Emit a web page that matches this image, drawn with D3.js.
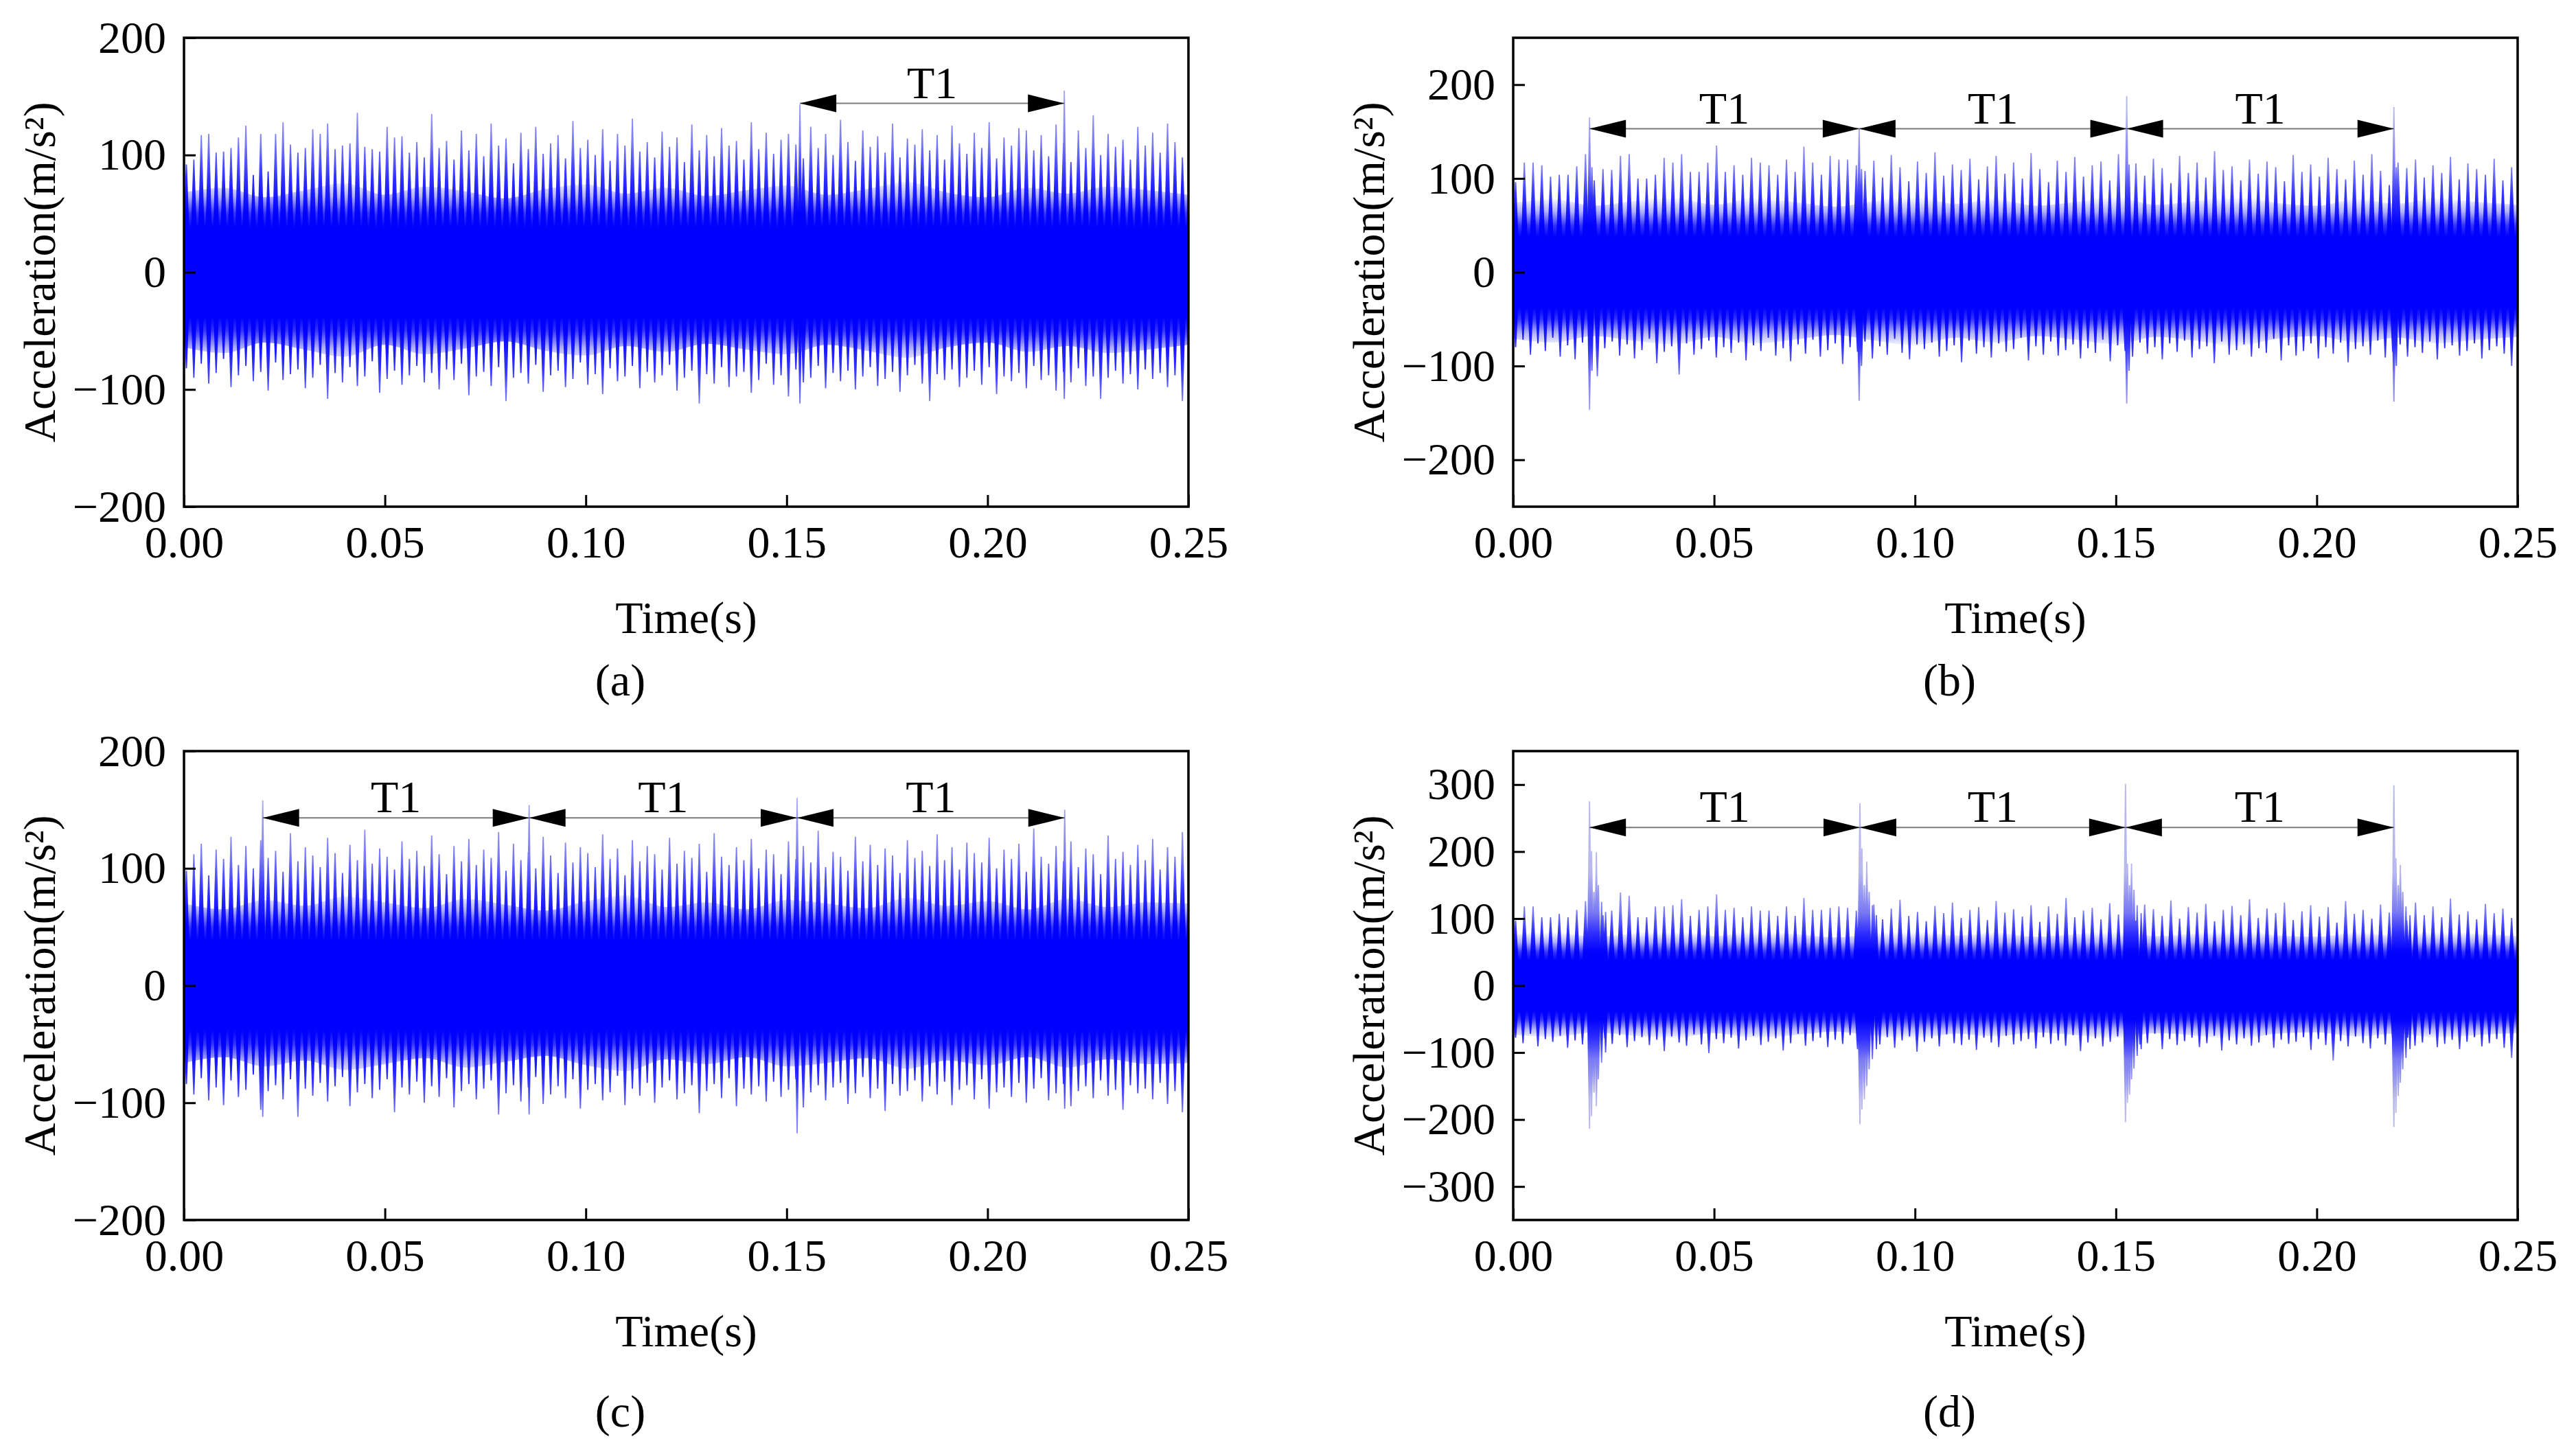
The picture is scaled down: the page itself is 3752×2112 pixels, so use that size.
<!DOCTYPE html>
<html>
<head>
<meta charset="utf-8">
<script src="https://cdn.jsdelivr.net/npm/d3@7"></script>
<style>
  body { margin: 0; background: #fff; }
  svg { display: block; font-family: "Liberation Serif", "Times New Roman", serif; }
</style>
</head>
<body>
<svg width="3752" height="2112"></svg>
<script>
// Time axis
const xTicks = [0, 0.05, 0.10, 0.15, 0.20, 0.25];
const tStart = 0.0006, tEnd = 0.2485;   // first / last spike of the sampled trace

// (a) spike tops / bottoms, extent of the dense core, marked spikes and T1 marks
const aHi = [92,96,117,118,102,103,106,115,125,83,118,86,118,128,109,102,106,122,118,127,
  105,108,110,136,107,105,103,124,115,116,102,111,98,135,106,112,96,121,104,118,
  99,127,108,114,93,119,105,124,101,110,117,97,129,106,113,100,122,95,118,108,
  131,103,111,98,120,107,115,94,126,104,117,99,123,108,112,96,128,105,119,101,
  113,118,109,97,124,106,118,100,130,111,95,121,107,116,102,127,98,114,109,122,
  104,117,96,125,110,101,119,106,128,97,115,108,123,121,104,117,99,126,110,94,
  121,106,134,100,118,107,113,96,124,108,119,102,127,111,98];
const aLo = [-82,-90,-78,-95,-86,-74,-98,-88,-80,-93,-85,-101,-77,-92,-87,-83,-99,-90,-79,-108,
  -86,-94,-81,-97,-89,-76,-103,-91,-84,-96,-88,-80,-94,-86,-100,-83,-92,-78,-105,-89,
  -85,-97,-81,-110,-90,-86,-95,-79,-102,-88,-84,-98,-91,-77,-96,-87,-104,-82,-93,-89,
  -80,-99,-85,-94,-88,-79,-101,-90,-84,-112,-87,-95,-81,-98,-89,-85,-103,-92,-78,-96,
  -88,-106,-83,-94,-90,-80,-99,-86,-93,-84,-100,-89,-81,-97,-91,-85,-102,-88,-79,-95,
  -110,-87,-92,-83,-98,-90,-84,-96,-81,-104,-89,-93,-86,-99,-80,-92,-88,-101,-85,-94,
  -82,-97,-89,-108,-90,-84,-95,-87,-100,-83,-91,-86,-98,-88,-110];
const aCoreHi = [68,72,64,70,76,66,73,69,63,71,75,67,72,65,70,74,66,71,77,68,64,72,67,73,70,66];
const aCoreLo = [-64,-69,-60,-66,-72,-62,-70,-65,-59,-67,-71,-63,-68,-61,-66,-70,-62,-67,-73,-64,-60,-68,-63,-69,-66,-62];
const aExtra = [[0.1533, 143, -112], [0.2191, 155, -108]];
const aMarks = [0.1533, 0.2191];
const aMarkLevel = 144;

// (b)
const bHi = [96,117,117,114,102,104,104,113,126,98,110,109,124,126,100,100,104,122,117,126,
  107,107,117,135,107,114,104,122,117,114,104,120,107,134,117,104,124,120,120,114,
  108,119,101,125,112,97,118,106,128,103,115,109,121,99,113,124,105,117,100,127,
  110,96,119,107,123,102,114,118,98,126,108,116,103,121,111,95,124,106,117,101,
  129,109,113,98,120,105,118,112,97,125,107,115,102,122,110,99,119,104,126,108,
  93,117,111,120,101,114,106,123,99,116,110,104,121,98,112];
const bLo = [-80,-72,-88,-76,-84,-70,-90,-78,-93,-75,-86,-111,-81,-74,-89,-77,-92,-83,-71,-97,
  -85,-79,-109,-76,-88,-82,-73,-91,-80,-86,-75,-94,-78,-84,-70,-89,-81,-95,-77,-87,
  -72,-90,-83,-76,-98,-80,-85,-74,-92,-79,-88,-71,-86,-93,-77,-82,-75,-90,-84,-78,
  -96,-73,-87,-80,-91,-76,-85,-82,-70,-94,-79,-88,-74,-89,-83,-77,-92,-81,-86,-72,
  -95,-78,-84,-90,-75,-87,-80,-93,-76,-85,-73,-91,-82,-79,-97,-74,-88,-83,-77,-90,
  -81,-86,-71,-94,-78,-89,-84,-76,-92,-80,-87,-75,-96,-82,-79,-88,-73,-91,-85,-77,
  -90,-80,-86,-74,-93,-81,-78,-89,-84,-76,-92,-83,-79,-87,-100];
const bCoreHi = [74,78,71,76,80,72,79,75,70,76,81,73,78,71,75,80,72,76,82,74,71,78,73,79,75,72];
const bCoreLo = [-71,-75,-68,-73,-77,-69,-76,-72,-67,-73,-78,-70,-75,-68,-72,-77,-69,-73,-79,-71,-68,-75,-70,-76,-72,-69];
const bExtra = [[0.0190, 165, -147], [0.0196, 112, -105], [0.0861, 153, -137], [0.0867, 110, -100],
  [0.1527, 188, -140], [0.1533, 115, -105], [0.2192, 176, -138], [0.2198, 112, -100]];
const bMarks = [0.0190, 0.0861, 0.1527, 0.2192];
const bMarkLevel = 153;

// (c)
const cHi = [98,112,121,94,116,108,127,103,119,100,124,109,115,97,130,106,118,111,101,126,
  113,96,120,107,133,104,117,110,99,123,108,115,102,128,112,95,119,106,125,103,
  116,109,131,98,121,107,114,100,127,111,96,122,105,118,113,101,129,108,117,94,
  124,106,119,112,99,126,104,115,109,121,97,130,110,103,118,107,125,100,116,112,
  95,123,108,119,105,132,101,114,110,98,127,106,120,103,117,111,96,124,109,115,
  102,129,107,118,99,122,113,105,126,100,116,108,121,97,134,110,104,119,106,123,
  101,117,112,95,128,108,114,103,120,107,125,99,118,110,131];
const cLo = [-84,-93,-79,-98,-87,-102,-81,-95,-89,-76,-106,-90,-85,-97,-80,-112,-88,-94,-83,-99,
  -86,-78,-103,-91,-84,-96,-89,-80,-108,-87,-93,-82,-100,-86,-95,-79,-104,-90,-84,-97,
  -88,-81,-110,-92,-85,-99,-87,-78,-101,-93,-86,-96,-80,-105,-89,-84,-98,-91,-77,-102,
  -88,-94,-83,-100,-87,-81,-97,-92,-85,-109,-90,-84,-96,-79,-103,-88,-93,-86,-99,-82,
  -95,-89,-80,-104,-91,-85,-98,-87,-83,-101,-92,-78,-96,-88,-107,-84,-94,-90,-81,-99,
  -86,-93,-82,-102,-89,-85,-97,-80,-105,-91,-87,-95,-83,-100,-88,-79,-98,-92,-84,-103,
  -90,-86,-96,-81,-94,-89,-106,-85,-92,-88,-97,-83,-101,-90,-108];
const cCoreHi = [70,65,73,68,76,71,66,74,69,64,72,77,67,71,65,73,70,66,75,68,72,65,74,67,71,70];
const cCoreLo = [-66,-61,-69,-64,-72,-67,-62,-70,-65,-60,-68,-73,-63,-67,-61,-69,-66,-62,-71,-64,-68,-61,-70,-63,-67,-66];
const cExtra = [[0.0196, 158, -112], [0.0859, 154, -110], [0.1526, 160, -126], [0.2192, 150, -105]];
const cMarks = [0.0196, 0.0859, 0.1526, 0.2192];
const cMarkLevel = 143;

// (d)
const dHi = [97,118,118,102,102,107,102,113,126,100,105,112,139,134,102,102,118,118,120,129,
  104,113,118,136,113,116,102,118,112,112,104,118,104,131,113,113,116,118,116,112,
  107,121,99,115,128,104,110,96,119,108,124,101,113,117,98,126,109,114,103,120,
  95,118,107,131,102,112,116,99,123,106,110,97,121,114,104,127,100,117,109,122,
  96,113,119,105,129,101,115,108,124,98,111,120,103,117,94,126,107,113,100,121,
  109,116,97,124,105,118,102,130,106,111,99,122,108,115,101];
const dLo = [-78,-86,-72,-91,-80,-84,-75,-93,-82,-88,-96,-105,-79,-87,-74,-92,-83,-77,-89,-81,
  -98,-76,-85,-90,-73,-88,-101,-80,-86,-78,-94,-82,-75,-89,-84,-79,-97,-86,-72,-90,
  -83,-78,-92,-81,-87,-74,-95,-80,-85,-88,-77,-93,-82,-76,-99,-84,-79,-91,-73,-86,
  -89,-81,-96,-78,-85,-92,-75,-88,-83,-80,-94,-77,-87,-82,-90,-74,-98,-85,-79,-91,
  -84,-76,-93,-81,-88,-86,-72,-95,-80,-89,-83,-78,-92,-86,-75,-97,-82,-88,-79,-90,
  -85,-74,-93,-81,-87,-84,-77,-96,-80,-89,-112,-83,-91,-76,-86,-94,-79,-88,-82,-99,
  -78,-90,-85,-73,-92,-87,-81,-95,-84,-77,-91,-86,-80,-93,-108];
const dCoreHi = [76,80,73,78,82,74,81,77,72,78,83,75,79,73,77,82,74,78,84,75,73,79,75,81,77,74];
const dCoreLo = [-73,-77,-70,-75,-79,-71,-78,-74,-69,-75,-80,-72,-76,-70,-74,-79,-71,-75,-81,-72,-70,-76,-72,-78,-74,-71];
const dExtra = [
  [0.0190, 275, -214], [0.0195, 201, -195], [0.0201, 140, -160], [0.0207, 199, -180], [0.0212, 150, -140], [0.0220, 125, -115], [0.0230, 110, -100],
  [0.0863, 272, -207], [0.0868, 205, -185], [0.0874, 150, -170], [0.0880, 185, -150], [0.0886, 140, -125], [0.0894, 120, -110], [0.0904, 105, -95],
  [0.1524, 301, -204], [0.1529, 182, -175], [0.1534, 150, -163], [0.1539, 182, -140], [0.1545, 143, -124], [0.1553, 120, -105], [0.1563, 108, -95],
  [0.2192, 299, -211], [0.2197, 190, -190], [0.2203, 150, -165], [0.2208, 180, -145], [0.2214, 140, -125], [0.2222, 118, -108], [0.2232, 105, -95]];
const dMarks = [0.0190, 0.0863, 0.1524, 0.2192];
const dMarkLevel = 236;

// Y axes
const abcTicks = [-200, -100, 0, 100, 200];
const dTicks = [-300, -200, -100, 0, 100, 200, 300];

const series = [
  { name: "(a)", hi: aHi, lo: aLo, coreHi: aCoreHi, coreLo: aCoreLo, extra: aExtra, marks: aMarks, level: aMarkLevel, ext: 200, ticks: abcTicks },
  { name: "(b)", hi: bHi, lo: bLo, coreHi: bCoreHi, coreLo: bCoreLo, extra: bExtra, marks: bMarks, level: bMarkLevel, ext: 250, ticks: abcTicks },
  { name: "(c)", hi: cHi, lo: cLo, coreHi: cCoreHi, coreLo: cCoreLo, extra: cExtra, marks: cMarks, level: cMarkLevel, ext: 200, ticks: abcTicks },
  { name: "(d)", hi: dHi, lo: dLo, coreHi: dCoreHi, coreLo: dCoreLo, extra: dExtra, marks: dMarks, level: dMarkLevel, ext: 350, ticks: dTicks }
];

// Layout
const W = 1463, H = 683, fontSize = 66;
const layout = [
  { left: 268, top: 55, tagY: 275 },
  { left: 2204, top: 55, tagY: 275 },
  { left: 268, top: 1094, tagY: 301 },
  { left: 2204, top: 1094, tagY: 301 }
];

const svg = d3.select("svg");
svg.append("rect").attr("width", 3752).attr("height", 2112).attr("fill", "#fff");
const defs = svg.append("defs");

// Trapezoid spike from the zero line to value v
const spikePath = (x, y, t, v, w0, wt) => {
  const cx = x(t), y0 = y(0), y1 = y(v);
  return `M${cx - w0},${y0}L${cx - wt},${y1}L${cx + wt},${y1}L${cx + w0},${y0}Z`;
};

// Vertical gradient set by data values
const addGradient = (id, y, stops) => {
  const grad = defs.append("linearGradient").attr("id", id)
    .attr("gradientUnits", "userSpaceOnUse")
    .attr("x1", 0).attr("x2", 0).attr("y1", 0).attr("y2", H);
  stops.forEach(([v, c, o]) => grad.append("stop")
    .attr("offset", y(v) / H).attr("stop-color", c).attr("stop-opacity", o));
};

const drawPanel = (s, k) => {
  const pos = layout[k];
  const g = svg.append("g").attr("transform", `translate(${pos.left},${pos.top})`);
  const x = d3.scaleLinear().domain([0, 0.25]).range([0, W]);
  const y = d3.scaleLinear().domain([-s.ext, s.ext]).range([H, 0]);

  defs.append("clipPath").attr("id", "clip" + k)
    .append("rect").attr("width", W).attr("height", H);

  // light thin tips, solid blue near zero
  addGradient("grad" + k, y, [[170, "#b8b8ef", 1], [110, "#7a7af3", 1], [80, "#3030ff", 1], [50, "#0000ff", 1],
    [-50, "#0000ff", 1], [-80, "#3030ff", 1], [-110, "#7a7af3", 1], [-170, "#b8b8ef", 1]]);
  // dense core fading out at its edge
  addGradient("core" + k, y, [[80, "#0000ff", 0], [65, "#0000ff", 0.3], [50, "#0000ff", 0.8], [38, "#0000ff", 1],
    [-38, "#0000ff", 1], [-50, "#0000ff", 0.8], [-65, "#0000ff", 0.3], [-80, "#0000ff", 0]]);

  const sig = g.append("g").attr("clip-path", `url(#clip${k})`).attr("fill", `url(#grad${k})`);

  const coreT = d3.scaleLinear().domain([0, s.coreHi.length - 1]).range([0, 0.25]);
  sig.append("path")
    .datum(s.coreHi.map((v, i) => [coreT(i), v, s.coreLo[i]]))
    .attr("fill", `url(#core${k})`)
    .attr("d", d3.area().x(d => x(d[0])).y0(d => y(d[2])).y1(d => y(d[1])).curve(d3.curveMonotoneX));

  const hiT = d3.scaleLinear().domain([0, s.hi.length - 1]).range([tStart, tEnd]);
  const loT = d3.scaleLinear().domain([0, s.lo.length - 1]).range([tStart, tEnd]);
  sig.selectAll("path.up").data(s.hi).enter().append("path").attr("class", "up")
    .attr("d", (v, i) => spikePath(x, y, hiT(i), v, 6, 0.9));
  sig.selectAll("path.down").data(s.lo).enter().append("path").attr("class", "down")
    .attr("d", (v, i) => spikePath(x, y, loT(i), v, 6, 0.9));
  sig.selectAll("path.exup").data(s.extra).enter().append("path").attr("class", "exup")
    .attr("d", d => spikePath(x, y, d[0], d[1], 4, 0.9));
  sig.selectAll("path.exdown").data(s.extra).enter().append("path").attr("class", "exdown")
    .attr("d", d => spikePath(x, y, d[0], d[2], 4, 0.9));

  // axes, ticks inside
  const xa = g.append("g").attr("transform", `translate(0,${H})`)
    .call(d3.axisBottom(x).tickValues(xTicks).tickSize(-17).tickPadding(27).tickFormat(d3.format(".2f")));
  const ya = g.append("g")
    .call(d3.axisLeft(y).tickValues(s.ticks).tickSize(-17).tickPadding(26)
      .tickFormat(v => v < 0 ? "\u2212" + Math.abs(v) : String(v)));
  [xa, ya].forEach(a => {
    a.attr("font-family", null).attr("font-size", fontSize);
    a.select(".domain").remove();
    a.selectAll(".tick line").attr("stroke", "#000").attr("stroke-width", 3);
    a.selectAll(".tick text").attr("fill", "#000");
  });

  g.append("rect").attr("width", W).attr("height", H)
    .attr("fill", "none").attr("stroke", "#000").attr("stroke-width", 3.5);

  // T1 period marks
  const yy = y(s.level);
  const pairs = d3.pairs(s.marks);
  const mk = g.append("g");
  mk.selectAll("line").data(pairs).enter().append("line")
    .attr("x1", d => x(d[0])).attr("x2", d => x(d[1]))
    .attr("y1", yy).attr("y2", yy)
    .attr("stroke", "#7a7a7a").attr("stroke-width", 2);
  mk.selectAll("path.la").data(pairs).enter().append("path").attr("class", "la")
    .attr("fill", "#000")
    .attr("d", d => `M${x(d[0])},${yy}L${x(d[0]) + 53},${yy - 13}L${x(d[0]) + 53},${yy + 13}Z`);
  mk.selectAll("path.ra").data(pairs).enter().append("path").attr("class", "ra")
    .attr("fill", "#000")
    .attr("d", d => `M${x(d[1])},${yy}L${x(d[1]) - 53},${yy - 13}L${x(d[1]) - 53},${yy + 13}Z`);
  mk.selectAll("text").data(pairs).enter().append("text")
    .attr("x", d => (x(d[0]) + x(d[1])) / 2).attr("y", yy - 8)
    .attr("text-anchor", "middle").attr("font-size", fontSize)
    .text("T1");

  // titles
  g.append("text").attr("x", W / 2).attr("y", H + 184)
    .attr("text-anchor", "middle").attr("font-size", fontSize).text("Time(s)");
  g.append("text").attr("transform", `translate(-188,${H / 2}) rotate(-90)`)
    .attr("text-anchor", "middle").attr("font-size", fontSize).text("Acceleration(m/s\u00b2)");
  g.append("text").attr("x", W / 2 - 96).attr("y", H + pos.tagY)
    .attr("text-anchor", "middle").attr("font-size", fontSize).text(s.name);
};

series.forEach(drawPanel);
</script>
</body>
</html>
